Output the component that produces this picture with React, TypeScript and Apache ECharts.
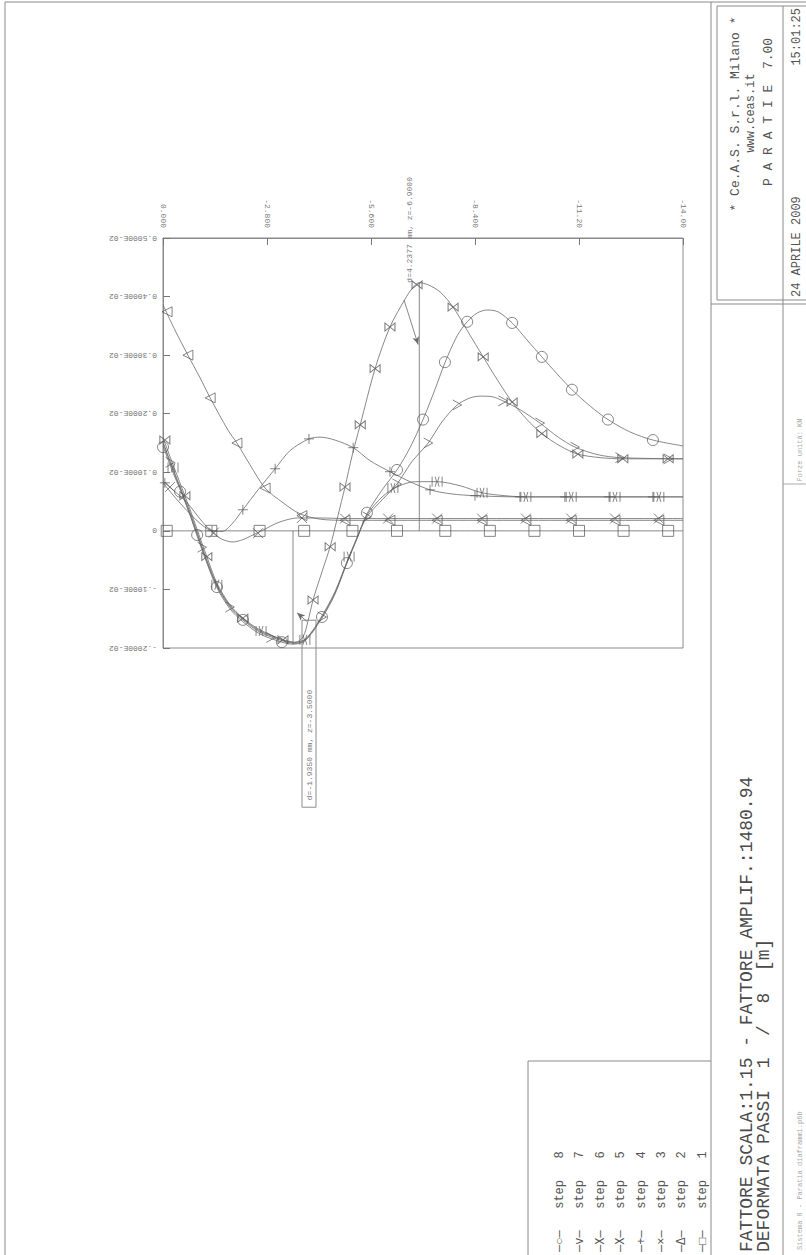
import React, { useEffect, useRef } from "react";
import * as echarts from "echarts";

// ---------- tick labels ----------
const depthTickLabels = ["0.000", "-2.800", "-5.600", "-8.400", "-11.20", "-14.00"];
const dispTickLabels = ["-.2000E-02", "-.1000E-02", "0", "0.1000E-02", "0.2000E-02", "0.3000E-02", "0.4000E-02", "0.5000E-02"];

// ---------- data: [depth z (m), displacement d (mm)] ----------
const step1Curve = [[0, 0], [-14, 0]];
const step1Marks = [[-0.1, 0], [-1.3, 0], [-2.6, 0], [-3.8, 0], [-5.1, 0], [-6.3, 0], [-7.6, 0], [-8.8, 0], [-10.0, 0], [-11.2, 0], [-12.4, 0], [-13.6, 0]];

const step2Curve = [[0, 3.86], [-0.32, 3.43], [-0.67, 3.0], [-1.0, 2.61], [-1.27, 2.27], [-1.75, 1.72], [-1.99, 1.5], [-2.34, 1.13], [-2.75, 0.73], [-3.23, 0.48], [-3.69, 0.29], [-4.23, 0.2], [-4.9, 0.18], [-6.38, 0.18], [-14, 0.18]];
const step2Marks = [[-0.11, 3.74], [-0.67, 3.0], [-1.27, 2.27], [-1.99, 1.5], [-2.75, 0.73], [-3.74, 0.26], [-4.9, 0.18], [-6.11, 0.18], [-7.38, 0.18], [-8.59, 0.18], [-9.77, 0.18], [-10.99, 0.18], [-12.17, 0.18], [-13.35, 0.18]];

const step3Curve = [[0, 0.84], [-0.32, 0.67], [-0.65, 0.48], [-1.0, 0.2], [-1.32, -0.02], [-1.58, -0.14], [-1.88, -0.19], [-2.15, -0.15], [-2.42, -0.07], [-2.75, 0.03], [-3.02, 0.12], [-3.34, 0.19], [-3.63, 0.22], [-4.23, 0.22], [-4.9, 0.21], [-14, 0.21]];
const step3Marks = [[-0.19, 0.75], [-1.37, -0.03], [-2.56, -0.04], [-3.74, 0.22], [-4.9, 0.21], [-6.06, 0.21], [-7.38, 0.21], [-8.59, 0.21], [-9.77, 0.21], [-10.99, 0.21], [-12.17, 0.21], [-13.35, 0.21]];

const step4Curve = [[0, 0.82], [-0.38, 0.53], [-0.73, 0.29], [-1.05, 0.1], [-1.32, 0.0], [-1.59, -0.01], [-1.86, 0.12], [-2.15, 0.36], [-2.56, 0.7], [-3.02, 1.06], [-3.42, 1.37], [-3.93, 1.57], [-4.23, 1.6], [-4.63, 1.55], [-5.12, 1.42], [-5.57, 1.2], [-6.11, 1.01], [-6.65, 0.84], [-7.19, 0.7], [-7.78, 0.63], [-8.4, 0.6], [-9.61, 0.58], [-14, 0.58]];
const step4Marks = [[-0.05, 0.82], [-1.32, 0.0], [-2.15, 0.36], [-3.02, 1.06], [-3.93, 1.57], [-5.12, 1.42], [-6.11, 1.01], [-7.19, 0.7], [-8.4, 0.6], [-9.61, 0.58], [-10.82, 0.58], [-12.01, 0.58], [-13.19, 0.58]];

const step5Curve = [[0, 1.52], [-0.24, 1.11], [-0.51, 0.67], [-0.73, 0.31], [-0.92, -0.03], [-1.18, -0.5], [-1.45, -0.92], [-1.8, -1.28], [-2.15, -1.5], [-2.61, -1.71], [-3.23, -1.86], [-3.55, -1.9], [-3.88, -1.83], [-4.28, -1.45], [-4.63, -1.04], [-4.95, -0.53], [-5.22, -0.12], [-5.49, 0.27], [-5.9, 0.58], [-6.3, 0.75], [-6.79, 0.84], [-7.38, 0.84], [-8.0, 0.77], [-8.59, 0.65], [-9.21, 0.6], [-9.77, 0.58], [-14, 0.58]];
const step5Marks = [[-0.27, 1.08], [-1.45, -0.92], [-2.64, -1.71], [-3.82, -1.86], [-5.01, -0.44], [-6.19, 0.73], [-7.38, 0.84], [-8.59, 0.65], [-9.77, 0.58], [-10.99, 0.58], [-12.17, 0.58], [-13.35, 0.58]];

const step6Curve = [[0, 1.59], [-0.24, 1.18], [-0.51, 0.73], [-0.73, 0.36], [-0.92, 0.02], [-1.18, -0.44], [-1.45, -0.89], [-1.8, -1.26], [-2.15, -1.49], [-2.61, -1.69], [-3.23, -1.86], [-3.55, -1.91], [-3.77, -1.81], [-3.9, -1.55], [-4.04, -1.18], [-4.28, -0.7], [-4.5, -0.27], [-4.71, 0.26], [-4.9, 0.75], [-5.09, 1.28], [-5.31, 1.81], [-5.71, 2.77], [-6.11, 3.48], [-6.52, 3.96], [-6.7, 4.13], [-6.9, 4.2377], [-7.14, 4.2], [-7.46, 4.08], [-7.81, 3.82], [-8.21, 3.4], [-8.62, 2.97], [-9.02, 2.56], [-9.4, 2.2], [-9.8, 1.9], [-10.2, 1.66], [-10.69, 1.45], [-11.17, 1.31], [-11.77, 1.25], [-12.38, 1.23], [-14, 1.23]];
const step6Marks = [[-0.05, 1.55], [-0.59, 0.6], [-1.18, -0.44], [-2.15, -1.49], [-3.23, -1.86], [-4.04, -1.18], [-4.5, -0.27], [-4.9, 0.75], [-5.31, 1.81], [-5.71, 2.77], [-6.11, 3.48], [-6.84, 4.2], [-7.81, 3.82], [-8.62, 2.97], [-9.4, 2.2], [-10.2, 1.66], [-11.17, 1.31], [-12.38, 1.23], [-13.6, 1.23]];

const step7Curve = [[0, 1.5], [-0.24, 1.08], [-0.51, 0.65], [-0.73, 0.28], [-0.92, -0.06], [-1.18, -0.52], [-1.45, -0.94], [-1.8, -1.3], [-2.15, -1.52], [-2.61, -1.73], [-3.23, -1.88], [-3.55, -1.92], [-3.82, -1.86], [-4.28, -1.47], [-4.63, -1.06], [-4.95, -0.55], [-5.22, -0.13], [-5.49, 0.24], [-5.9, 0.53], [-6.3, 0.8], [-6.7, 1.18], [-7.14, 1.5], [-7.51, 1.86], [-7.92, 2.15], [-8.27, 2.27], [-8.54, 2.3], [-8.86, 2.29], [-9.15, 2.22], [-9.61, 2.07], [-10.15, 1.84], [-10.64, 1.6], [-11.09, 1.43], [-11.71, 1.3], [-12.3, 1.25], [-14, 1.23]];
const step7Marks = [[-0.19, 1.17], [-1.05, -0.28], [-1.8, -1.3], [-2.9, -1.82], [-4.28, -1.47], [-5.49, 0.24], [-6.3, 0.8], [-7.14, 1.5], [-7.92, 2.15], [-9.15, 2.22], [-10.15, 1.84], [-11.09, 1.43], [-12.3, 1.25], [-13.6, 1.23]];

const step8Curve = [[0, 1.45], [-0.24, 1.04], [-0.51, 0.63], [-0.73, 0.26], [-0.92, -0.09], [-1.18, -0.55], [-1.45, -0.97], [-1.8, -1.33], [-2.15, -1.55], [-2.61, -1.76], [-3.2, -1.9], [-3.5, -1.935], [-3.82, -1.88], [-4.28, -1.49], [-4.63, -1.08], [-4.95, -0.55], [-5.22, -0.14], [-5.49, 0.29], [-5.9, 0.7], [-6.3, 1.04], [-6.65, 1.42], [-7.0, 1.9], [-7.32, 2.41], [-7.59, 2.87], [-7.92, 3.33], [-8.19, 3.57], [-8.46, 3.72], [-8.72, 3.77], [-9.02, 3.74], [-9.4, 3.55], [-9.8, 3.26], [-10.2, 2.97], [-10.61, 2.68], [-11.01, 2.41], [-11.5, 2.13], [-11.98, 1.9], [-12.57, 1.69], [-13.19, 1.55], [-14, 1.45]];
const step8Marks = [[0, 1.43], [-0.46, 0.67], [-0.92, -0.07], [-1.45, -0.96], [-2.15, -1.52], [-3.2, -1.9], [-4.28, -1.47], [-4.95, -0.55], [-5.49, 0.31], [-6.3, 1.04], [-7.0, 1.9], [-7.59, 2.88], [-8.19, 3.57], [-9.4, 3.55], [-10.2, 2.97], [-11.01, 2.41], [-11.98, 1.9], [-13.19, 1.55]];

// annotations
const annoMax = [-6.9, 4.2377];
const annoMin = [-3.5, -1.935];
const topArrow = [[-6.49, 3.94], [-6.87, 3.18]];
const bottomArrow = [[-3.88, -1.55], [-3.61, -1.4]];
const annoMaxText = "d=4.2377 mm, z=-6.9000";
const annoMinText = "d=-1.9350 mm, z=-3.5000";

const legendLabels = [
  "—○—   step   8",
  "—v—   step   7",
  "—X—   step   6",
  "—X—   step   5",
  "—+—   step   4",
  "—×—   step   3",
  "—Δ—   step   2",
  "—□—   step   1",
];

const titleLines = ["* Ce.A.S. S.r.l. Milano *", "www.ceas.it", "P A R A T I E  7.00"];
const dateText = "24 APRILE 2009";
const timeText = "15:01:25";
const footer1 = "FATTORE SCALA:1.15 - FATTORE AMPLIF.:1480.94";
const footer2 = "DEFORMATA PASSI  1  /  8  [m]";
const unitsText = "Forze unità: KN";
const fileText = "Sistema 8 - Paratia diaframmi.p6b";

const MONO = '"Liberation Mono", "DejaVu Sans Mono", monospace';
const LINE = "#6a6a6a";
const MARK = "#555";

const steps = [
  { name: "step 1", curve: step1Curve, marks: step1Marks, symbol: "rect", size: 11, rotate: 0 },
  { name: "step 2", curve: step2Curve, marks: step2Marks, symbol: "triangle", size: 10, rotate: 90 },
  { name: "step 3", curve: step3Curve, marks: step3Marks, symbol: "path://M0,0L10,10M10,0L0,10", size: 10, rotate: 0 },
  { name: "step 4", curve: step4Curve, marks: step4Marks, symbol: "path://M5,0L5,10M0,5L10,5", size: 10, rotate: 0 },
  { name: "step 5", curve: step5Curve, marks: step5Marks, symbol: "path://M0,0L0,10M10,0L10,10M3,0Q6,5,3,10M7,0Q4,5,7,10", size: [10, 10], rotate: 0 },
  { name: "step 6", curve: step6Curve, marks: step6Marks, symbol: "path://M0,0L10,10L10,0L0,10Z", size: [10, 8], rotate: 0 },
  { name: "step 7", curve: step7Curve, marks: step7Marks, symbol: "path://M0,0L10,5L0,10", size: [9, 10], rotate: 0 },
  { name: "step 8", curve: step8Curve, marks: step8Marks, symbol: "circle", size: 11, rotate: 0 },
];

function buildOption() {
  const series: any[] = [];
  steps.forEach((s) => {
    series.push({
      name: s.name,
      type: "line",
      data: s.curve,
      smooth: 0.3,
      symbol: "none",
      showSymbol: false,
      silent: true,
      lineStyle: { color: LINE, width: 0.8 },
      emphasis: { disabled: true },
      z: 2,
    });
    series.push({
      name: s.name + " marks",
      type: "scatter",
      data: s.marks,
      symbol: s.symbol,
      symbolSize: s.size,
      symbolRotate: s.rotate,
      silent: true,
      itemStyle: { color: "rgba(0,0,0,0)", borderColor: MARK, borderWidth: 0.9 },
      emphasis: { disabled: true },
      z: 3,
    });
  });
  const arrowMarkLine = (pts: number[][]) => ({
    silent: true,
    symbol: ["none", "arrow"],
    symbolSize: [5, 8],
    label: { show: false },
    emphasis: { disabled: true },
    lineStyle: { color: LINE, width: 0.8, type: "solid" },
    data: [[{ coord: pts[0] }, { coord: pts[1] }]],
  });
  series.push({
    name: "anno max",
    type: "line",
    data: [[annoMax[0], 0], annoMax],
    symbol: "none",
    silent: true,
    lineStyle: { color: LINE, width: 0.8 },
    emphasis: { disabled: true },
    markLine: arrowMarkLine(topArrow),
    z: 2,
  });
  series.push({
    name: "anno min",
    type: "line",
    data: [[annoMin[0], 0], annoMin],
    symbol: "none",
    silent: true,
    lineStyle: { color: LINE, width: 0.8 },
    emphasis: { disabled: true },
    markLine: arrowMarkLine(bottomArrow),
    z: 2,
  });

  return {
    animation: false,
    backgroundColor: "#ffffff",
    grid: { left: 163, top: 238, width: 520, height: 410, show: true, borderColor: "#8a8a8a", borderWidth: 1, containLabel: false },
    xAxis: {
      type: "value",
      position: "top",
      min: -14,
      max: 0,
      interval: 2.8,
      inverse: true,
      axisLine: { show: true, onZero: false, lineStyle: { color: "#8a8a8a", width: 1 } },
      axisTick: { show: true, inside: true, length: 7, lineStyle: { color: "#777" } },
      axisLabel: {
        rotate: 90,
        margin: 10,
        fontSize: 8,
        fontFamily: MONO,
        color: "#777",
        formatter: (v: number) => depthTickLabels[Math.round(-v / 2.8)] ?? "",
      },
      splitLine: { show: false },
    },
    yAxis: {
      type: "value",
      min: -2,
      max: 5,
      interval: 1,
      axisLine: { show: true, onZero: false, lineStyle: { color: "#8a8a8a", width: 1 } },
      axisTick: { show: true, inside: true, length: 7, lineStyle: { color: "#777" } },
      axisLabel: {
        rotate: 180,
        margin: 6,
        padding: [16, 0, 0, 0],
        fontSize: 8,
        fontFamily: MONO,
        color: "#777",
        formatter: (v: number) => dispTickLabels[Math.round(v + 2)] ?? "",
      },
      splitLine: { show: false },
    },
    series,
  };
}

const ln = (x1: number, y1: number, x2: number, y2: number, color = "#8a8a8a") => ({
  type: "line",
  silent: true,
  shape: { x1, y1, x2, y2 },
  style: { stroke: color, lineWidth: 1 },
});

const vText = (x: number, y: number, text: string, size: number, align: string, color: string) => ({
  type: "text",
  silent: true,
  x,
  y,
  rotation: Math.PI / 2,
  style: { text, font: `${size}px ${MONO}`, fill: color, align, verticalAlign: "middle" },
});

function buildGraphic(pMax: number[], pMin: number[]) {
  const els: any[] = [];
  // page frame
  els.push(ln(5, 2, 5, 1255));
  els.push(ln(5, 2, 806, 2));
  els.push(ln(711, 2, 711, 1255));
  // title block
  els.push({ type: "rect", silent: true, shape: { x: 717, y: 6, width: 95, height: 294 }, style: { fill: "none", stroke: "#8a8a8a", lineWidth: 1 } });
  els.push(ln(783, 6, 783, 1255));
  els.push(ln(711, 304, 806, 304));
  els.push(ln(783, 484, 806, 484, "#aaa"));
  els.push(vText(735, 114, titleLines[0], 13, "center", "#555"));
  els.push(vText(751, 113, titleLines[1], 12, "center", "#555"));
  els.push(vText(768, 112, titleLines[2], 13, "center", "#555"));
  els.push(vText(797, 297, dateText, 12, "left", "#555"));
  els.push(vText(797, 8, timeText, 12, "right", "#555"));
  els.push(vText(800, 450, unitsText, 7, "center", "#aaa"));
  els.push(vText(800, 1250, fileText, 7, "left", "#aaa"));
  // footer text
  els.push(vText(747, 1252, footer1, 18, "left", "#4a4a4a"));
  els.push(vText(764, 1252, footer2, 18, "left", "#4a4a4a"));
  // legend box
  els.push(ln(528, 1061, 711, 1061));
  els.push(ln(528, 1061, 528, 1255));
  legendLabels.forEach((t, i) => {
    els.push(vText(560 + i * 20.4, 1252, t, 12, "left", "#555"));
  });
  // annotations
  els.push(vText(pMax[0] - 10, pMax[1], annoMaxText, 8, "left", "#777"));
  els.push({
    type: "rect",
    silent: true,
    shape: { x: pMin[0] + 9, y: pMin[1] - 24, width: 14, height: 187 },
    style: { fill: "none", stroke: "#8a8a8a", lineWidth: 1 },
  });
  els.push(vText(pMin[0] + 16, pMin[1] + 156, annoMinText, 8, "left", "#777"));
  return els;
}

export default function App() {
  const ref = useRef<HTMLDivElement>(null);
  useEffect(() => {
    const chart = echarts.init(ref.current as HTMLDivElement, null, { renderer: "svg" });
    chart.setOption(buildOption() as any);
    const pMax = chart.convertToPixel({ gridIndex: 0 } as any, annoMax) as unknown as number[];
    const pMin = chart.convertToPixel({ gridIndex: 0 } as any, annoMin) as unknown as number[];
    chart.setOption({ graphic: buildGraphic(pMax, pMin) } as any);
    return () => chart.dispose();
  }, []);
  return (
    <div
      ref={ref}
      style={{ position: "fixed", left: 0, top: 0, width: 806, height: 1255, background: "#fff" }}
    />
  );
}
